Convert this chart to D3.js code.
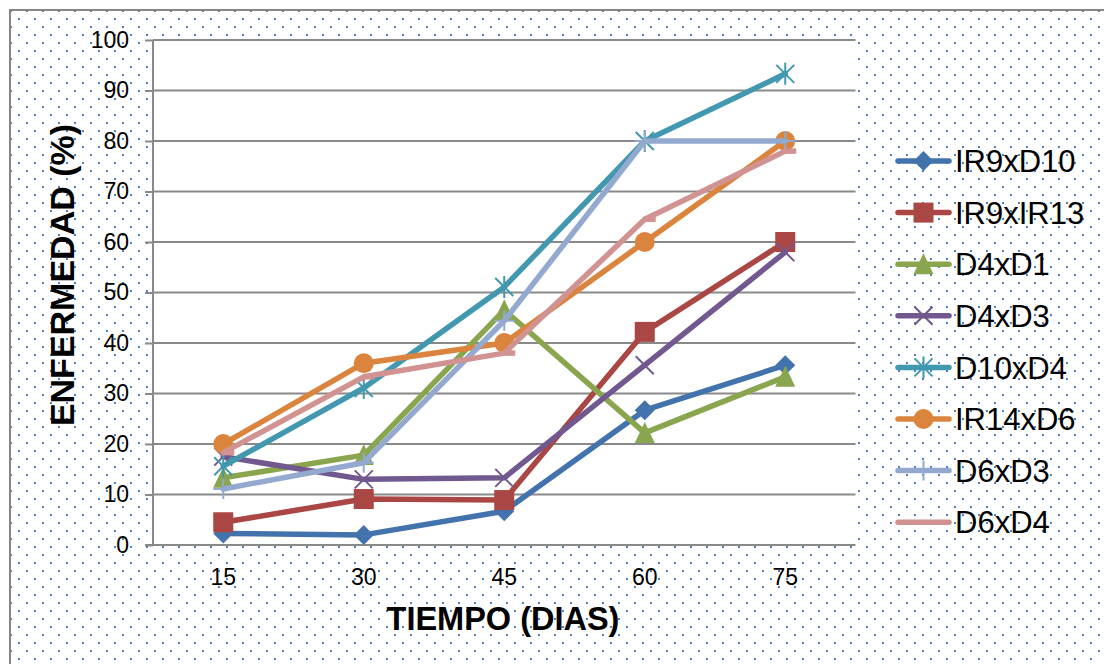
<!DOCTYPE html>
<html>
<head>
<meta charset="utf-8">
<script src="https://cdn.jsdelivr.net/npm/d3@7"></script>
<style>
html,body{margin:0;padding:0;background:#fff;}
svg{display:block;font-family:"Liberation Sans",Arial,sans-serif;}
</style>
</head>
<body>
<svg id="chart" width="1104" height="664"></svg>
<script>
const categories = [15, 30, 45, 60, 75];
const seriesNames = ["IR9xD10","IR9xIR13","D4xD1","D4xD3","D10xD4","IR14xD6","D6xD3","D6xD4"];
const IR9xD10  = [2.3, 2.0, 6.7, 26.7, 35.6];
const IR9xIR13 = [4.5, 9.1, 8.9, 42.2, 60.0];
const D4xD1    = [13.3, 17.8, 46.5, 22.2, 33.3];
const D4xD3    = [17.5, 13.0, 13.3, 35.6, 58.0];
const D10xD4   = [15.6, 31.1, 51.1, 80.0, 93.3];
const IR14xD6  = [20.0, 36.0, 40.0, 60.0, 80.0];
const D6xD3    = [11.1, 16.3, 44.4, 80.0, 80.0];
const D6xD4    = [18.3, 33.3, 38.0, 64.5, 78.0];
const yTicks = [0,10,20,30,40,50,60,70,80,90,100];

const seriesValues = [IR9xD10, IR9xIR13, D4xD1, D4xD3, D10xD4, IR14xD6, D6xD3, D6xD4];
const colors = ["#4373AC","#AA4643","#89A54E","#71588F","#4198AF","#DB843D","#93A9CF","#D19392"];
const markers = ["diamond","square","triangle","x","asterisk","circle","plus","dash"];

const svg = d3.select("#chart");
const W = 1104, H = 664;
const plot = {left:153, right:855.5, top:40, bottom:545};

// background pattern
const defs = svg.append("defs");
const pat = defs.append("pattern").attr("id","dots").attr("patternUnits","userSpaceOnUse")
  .attr("width",16).attr("height",16);
pat.append("rect").attr("width",16).attr("height",16).attr("fill","#fff");
pat.append("rect").attr("x",10).attr("y",10).attr("width",2).attr("height",2).attr("fill","#4F81BD");
pat.append("rect").attr("x",2).attr("y",2).attr("width",2).attr("height",2).attr("fill","#4F81BD");

svg.append("rect").attr("width",W).attr("height",H).attr("fill","#fff");
svg.append("rect").attr("x",10).attr("y",10).attr("width",W+20).attr("height",H+20)
  .attr("fill","url(#dots)").attr("stroke","#868686").attr("stroke-width",2);

// plot area
svg.append("rect").attr("x",plot.left).attr("y",plot.top)
  .attr("width",plot.right-plot.left).attr("height",plot.bottom-plot.top).attr("fill","#fff");

const x = d3.scaleBand().domain(categories).range([plot.left, plot.right]).paddingInner(0).paddingOuter(0);
const cx = d => x(d) + x.bandwidth()/2;
const y = d3.scaleLinear().domain([0,100]).range([plot.bottom, plot.top]);

// gridlines
svg.append("g").selectAll("line").data(yTicks.filter(t=>t>0)).join("line")
  .attr("x1",plot.left).attr("x2",plot.right).attr("y1",d=>y(d)).attr("y2",d=>y(d))
  .attr("stroke","#898989").attr("stroke-width",2);

// y axis
const yAxis = svg.append("g").attr("transform",`translate(${plot.left},0)`)
  .call(d3.axisLeft(y).tickValues(yTicks).tickSize(8).tickPadding(16).tickFormat(d3.format("d")));
yAxis.select(".domain").attr("stroke","#898989").attr("stroke-width",2).attr("d",`M0,${plot.top}V${plot.bottom}`);
yAxis.selectAll(".tick line").attr("stroke","#898989").attr("stroke-width",2);
yAxis.selectAll(".tick text").attr("font-size",23).attr("fill","#000")
  .attr("font-family","'Liberation Sans',Arial,sans-serif");

// x axis
const xAxis = svg.append("g").attr("transform",`translate(0,${plot.bottom})`)
  .call(d3.axisBottom(x).tickSize(0).tickPadding(24));
xAxis.select(".domain").attr("stroke","#898989").attr("stroke-width",2).attr("d",`M${plot.left-8},0H${plot.right}`);
xAxis.selectAll(".tick text").attr("font-size",23).attr("fill","#000")
  .attr("font-family","'Liberation Sans',Arial,sans-serif");

// markers
function drawMarker(g, type, color, px, py) {
  const r = 10;
  if (type === "diamond") {
    g.append("path").attr("d",`M${px},${py-r}L${px+r},${py}L${px},${py+r}L${px-r},${py}Z`).attr("fill",color);
  } else if (type === "square") {
    g.append("rect").attr("x",px-r).attr("y",py-r).attr("width",2*r).attr("height",2*r).attr("fill",color);
  } else if (type === "triangle") {
    g.append("path").attr("d",`M${px},${py-r-1}L${px+r},${py+r}L${px-r},${py+r}Z`).attr("fill",color);
  } else if (type === "circle") {
    g.append("circle").attr("cx",px).attr("cy",py).attr("r",r).attr("fill",color);
  } else if (type === "x") {
    g.append("path").attr("d",`M${px-9},${py-9}L${px+9},${py+9}M${px+9},${py-9}L${px-9},${py+9}`)
      .attr("stroke",color).attr("stroke-width",2);
  } else if (type === "asterisk") {
    g.append("path").attr("d",`M${px-9},${py-9}L${px+9},${py+9}M${px+9},${py-9}L${px-9},${py+9}M${px},${py-11}L${px},${py+11}`)
      .attr("stroke",color).attr("stroke-width",2);
  } else if (type === "plus") {
    g.append("path").attr("d",`M${px},${py-10}L${px},${py+10}M${px-10},${py}L${px+10},${py}`)
      .attr("stroke",color).attr("stroke-width",2);
  } else if (type === "dash") {
    g.append("path").attr("d",`M${px-1},${py}L${px+11},${py}`)
      .attr("stroke",color).attr("stroke-width",5.5);
  }
}

const line = d3.line().x((d,i)=>cx(categories[i])).y(d=>y(d));
seriesNames.forEach((name, si) => {
  const g = svg.append("g");
  g.append("path").datum(seriesValues[si]).attr("d",line).attr("fill","none")
    .attr("stroke",colors[si]).attr("stroke-width",5.5).attr("stroke-linejoin","round").attr("stroke-linecap","round");
  seriesValues[si].forEach((v,i) => drawMarker(g, markers[si], colors[si], cx(categories[i]), y(v)));
});

// legend
const leg = svg.append("g");
seriesNames.forEach((name, si) => {
  const ly = 161 + si*51.6;
  const g = leg.append("g");
  g.append("line").attr("x1",898).attr("x2",949).attr("y1",ly).attr("y2",ly)
    .attr("stroke",colors[si]).attr("stroke-width",5.5).attr("stroke-linecap","round");
  if (markers[si] !== "dash") drawMarker(g, markers[si], colors[si], 923.5, ly);
  g.append("text").attr("x",955).attr("y",ly).attr("dy","0.36em").attr("font-size",31).attr("fill","#000").text(name);
});

// axis titles
svg.append("text").attr("x",503).attr("y",630).attr("text-anchor","middle")
  .attr("font-size",32.5).attr("font-weight","bold").attr("fill","#000").text("TIEMPO (DIAS)");
svg.append("text").attr("transform","translate(74,275) rotate(-90)").attr("text-anchor","middle")
  .attr("font-size",34).attr("font-weight","bold").attr("fill","#000").text("ENFERMEDAD (%)");
</script>
</body>
</html>
